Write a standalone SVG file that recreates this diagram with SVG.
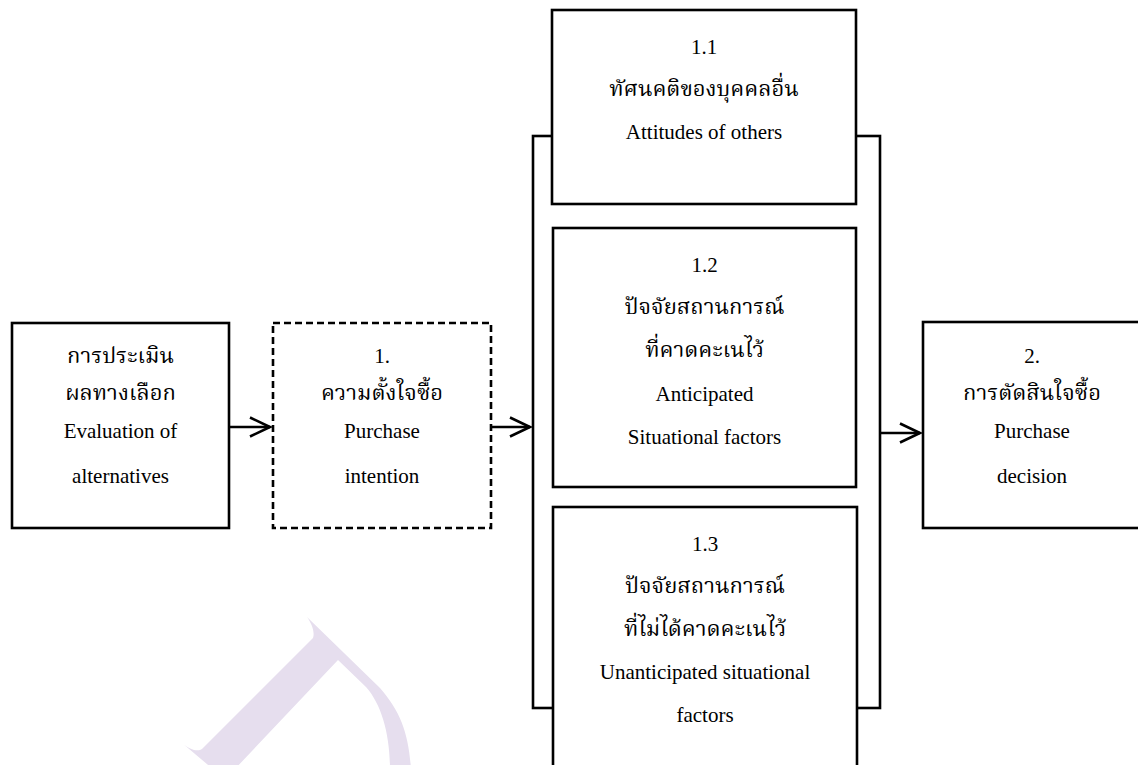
<svg xmlns="http://www.w3.org/2000/svg" width="1138" height="765" viewBox="0 0 1138 765">
<defs>
<style>
.box{fill:#fff;stroke:#000;stroke-width:2.6}
.dash{fill:#fff;stroke:#000;stroke-width:2.6;stroke-dasharray:7 4}
.frame{fill:none;stroke:#000;stroke-width:2.6}
.conn{fill:none;stroke:#000;stroke-width:2.6}
.t{font-family:'Liberation Serif',serif;font-size:21px;fill:#000;text-anchor:middle}
.th{font-family:'Liberation Serif','Noto Serif Thai','Noto Sans Thai',serif;font-size:22px;fill:#000;text-anchor:middle}
</style>
<marker id="arr" markerUnits="userSpaceOnUse" markerWidth="24" markerHeight="24" viewBox="0 0 24 24" refX="22" refY="12" orient="auto">
<path d="M2,2.5 L22,12 L2,21.5" fill="none" stroke="#000" stroke-width="2.6"/>
</marker>
</defs>
<rect width="1138" height="765" fill="#fff"/>
<path id="watermark" d="M307,617 C312,624 315,632 313,638 L202,749 C198,752 190,750 182,743 L214,770 L234,770 L338,660 L366,687 C382,705 390,735 390,770 L411,770 C409,735 401,712 380,688 Z" fill="#e6deee"/>
<g id="frame">
<rect class="frame" x="533" y="136" width="347" height="572"/>
</g>
<g id="connectors">
<line class="conn" x1="229" y1="427" x2="270" y2="427" marker-end="url(#arr)"/>
<line class="conn" x1="491" y1="427" x2="530" y2="427" marker-end="url(#arr)"/>
<line class="conn" x1="880" y1="433" x2="920" y2="433" marker-end="url(#arr)"/>
</g>
<g id="node-evaluation">
<rect class="box" x="12" y="323" width="217" height="205"/>
<text class="th" x="120.5" y="363">การประเมิน</text>
<text class="th" x="120.5" y="400">ผลทางเลือก</text>
<text class="t" x="120.5" y="438">Evaluation of</text>
<text class="t" x="120.5" y="483">alternatives</text>
</g>
<g id="node-intention">
<rect class="dash" x="273" y="323" width="218" height="205"/>
<text class="t" x="382" y="363">1.</text>
<text class="th" x="382" y="400">ความตั้งใจซื้อ</text>
<text class="t" x="382" y="438">Purchase</text>
<text class="t" x="382" y="483">intention</text>
</g>
<g id="node-attitudes">
<rect class="box" x="552" y="10" width="304" height="194"/>
<text class="t" x="704" y="54">1.1</text>
<text class="th" x="704" y="96">ทัศนคติของบุคคลอื่น</text>
<text class="t" x="704" y="139">Attitudes of others</text>
</g>
<g id="node-anticipated">
<rect class="box" x="553" y="228" width="303" height="259"/>
<text class="t" x="704.5" y="272">1.2</text>
<text class="th" x="704.5" y="314">ปัจจัยสถานการณ์</text>
<text class="th" x="704.5" y="357">ที่คาดคะเนไว้</text>
<text class="t" x="704.5" y="401">Anticipated</text>
<text class="t" x="704.5" y="444">Situational factors</text>
</g>
<g id="node-unanticipated">
<rect class="box" x="553" y="507" width="304" height="270"/>
<text class="t" x="705" y="551">1.3</text>
<text class="th" x="705" y="593">ปัจจัยสถานการณ์</text>
<text class="th" x="705" y="636">ที่ไม่ได้คาดคะเนไว้</text>
<text class="t" x="705" y="679">Unanticipated situational</text>
<text class="t" x="705" y="722">factors</text>
</g>
<g id="node-decision">
<rect class="box" x="923" y="322" width="220" height="206"/>
<text class="t" x="1032" y="363">2.</text>
<text class="th" x="1032" y="400">การตัดสินใจซื้อ</text>
<text class="t" x="1032" y="438">Purchase</text>
<text class="t" x="1032" y="483">decision</text>
</g>
</svg>
